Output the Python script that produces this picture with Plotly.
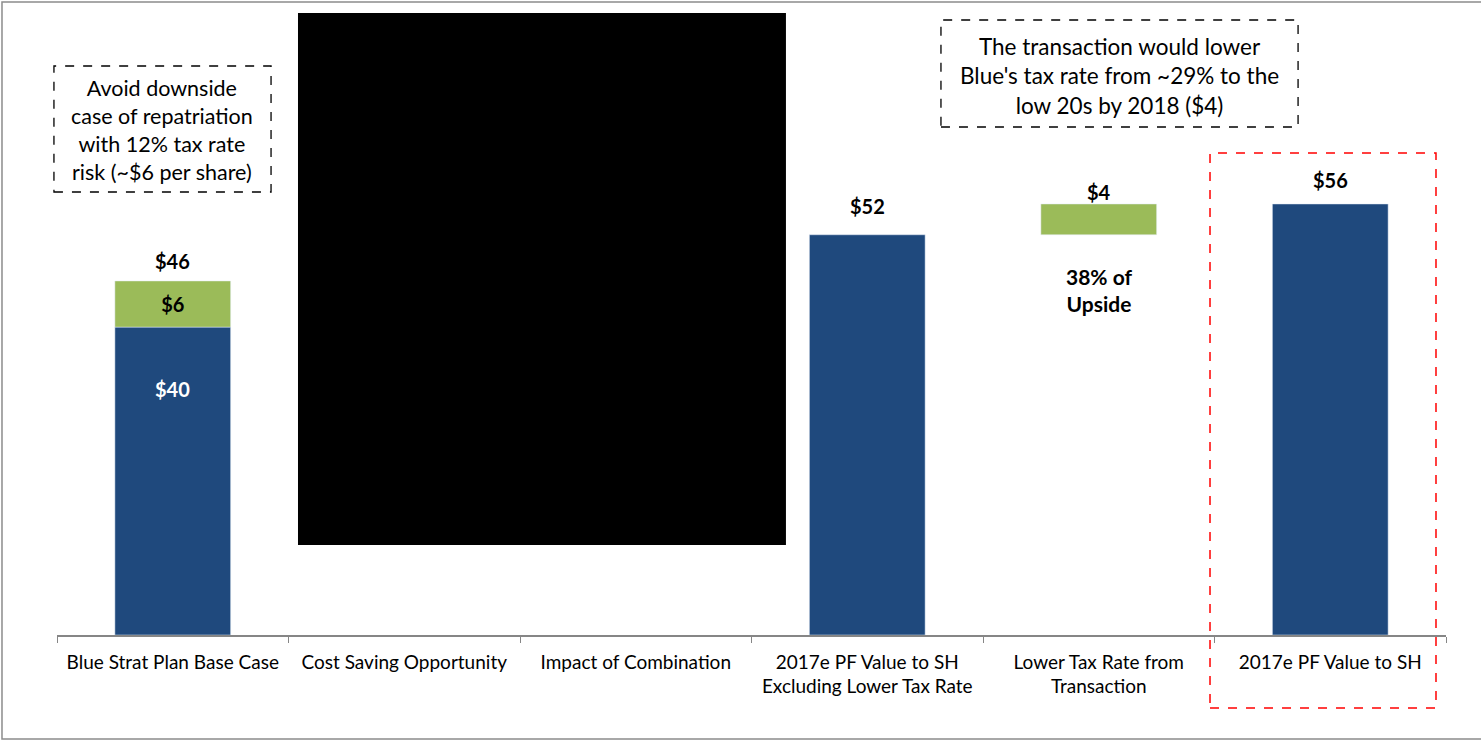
import plotly.graph_objects as go

categories = [
    "Blue Strat Plan Base Case",
    "Cost Saving Opportunity",
    "Impact of Combination",
    "2017e PF Value to SH<br>Excluding Lower Tax Rate",
    "Lower Tax Rate from<br>Transaction",
    "2017e PF Value to SH",
]
blue_values = [40, None, None, 52, None, 56]
green_base = [40, None, None, None, 52, None]
green_values = [6, None, None, None, 4, None]
top_labels = ["$46", None, None, "$52", "$4", "$56"]
top_label_y = [46, None, None, 52, 56, 56]
top_label_offset = [20, None, None, 29, 12, 24]  # px above bar top (label centre)
blue_inner = ["$40", None, None, None, None, None]
green_inner = ["$6", None, None, None, None, None]

FONT = "Lato"
BLUE = "#1F497D"
GREEN = "#9BBB59"

fig = go.Figure()
fig.add_trace(go.Bar(
    x=categories, y=blue_values, marker_color=BLUE, width=0.5,
    hoverinfo="skip", showlegend=False,
))
fig.add_trace(go.Bar(
    x=categories, y=green_values, base=[b if b is not None else 0 for b in green_base],
    marker_color=GREEN, width=0.5,
    text=green_inner, textposition="inside", insidetextanchor="middle",
    textfont=dict(color="black", size=20, family=FONT, weight="bold"),
    hoverinfo="skip", showlegend=False,
))

for c, v, lab in zip(categories, blue_values, blue_inner):
    if lab is None:
        continue
    fig.add_annotation(x=c, y=v, text=f"<b>{lab}</b>", showarrow=False,
                       yanchor="middle", yshift=-62,
                       font=dict(size=20, family=FONT, color="white"))

for c, lab, yv, off in zip(categories, top_labels, top_label_y, top_label_offset):
    if lab is None:
        continue
    fig.add_annotation(x=c, y=yv, text=f"<b>{lab}</b>", showarrow=False,
                       yanchor="middle", yshift=off,
                       font=dict(size=20, family=FONT, color="black"))

fig.add_annotation(x=categories[4], y=52, text="<b>38% of<br>Upside</b>", showarrow=False,
                   yanchor="top", yshift=-27,
                   font=dict(size=21, family=FONT, color="black"))

# note boxes
fig.add_shape(type="rect", xref="paper", yref="paper", x0=-0.0022, x1=0.1541, y0=0.7088, y1=0.9104,
              line=dict(color="black", width=1.3, dash="dash"))
fig.add_annotation(xref="paper", yref="paper", x=0.0756, y=0.8075,
                   text="Avoid downside<br>case of repatriation<br>with 12% tax rate<br>risk (~$6 per share)",
                   showarrow=False, align="center", xanchor="center", yanchor="middle",
                   font=dict(size=21.5, family=FONT, color="black"))
fig.add_shape(type="rect", xref="paper", yref="paper", x0=0.6364, x1=0.8935, y0=0.8128, y1=0.984,
              line=dict(color="black", width=1.3, dash="dash"))
fig.add_annotation(xref="paper", yref="paper", x=0.7646, y=0.8944,
                   text="The transaction would lower<br>Blue's tax rate from ~29% to the<br>low 20s by 2018 ($4)",
                   showarrow=False, align="center", xanchor="center", yanchor="middle",
                   font=dict(size=22.5, family=FONT, color="black"))

# highlight box
fig.add_shape(type="rect", xref="paper", yref="paper", x0=0.8301, x1=0.9928, y0=-0.1168, y1=0.7712,
              line=dict(color="#FF0000", width=1.5, dash="dash"))
# redaction block
fig.add_shape(type="rect", xref="paper", yref="paper", x0=0.1735, x1=0.5248, y0=0.144, y1=0.9952,
              fillcolor="black", line=dict(width=0))
# outer border
fig.add_shape(type="rect", xref="paper", yref="paper", x0=-0.0396, x1=1.2, y0=-0.1664, y1=1.0128,
              line=dict(color="#8C8C8C", width=1.5))

fig.update_layout(
    width=1481, height=741,
    margin=dict(l=57, r=35, t=10, b=106),
    plot_bgcolor="white", paper_bgcolor="white",
    barmode="overlay",
    font=dict(family=FONT, size=19, color="black"),
)
fig.update_xaxes(
    type="category", showline=True, linecolor="#868686", linewidth=1.5,
    ticks="outside", tickson="boundaries", ticklen=6, tickcolor="#868686",
    showgrid=False, tickfont=dict(size=19, family=FONT, color="black"),
    ticklabelstandoff=9,
)
fig.update_yaxes(visible=False, range=[0, 81.2], showgrid=False)

fig.write_html("out.html", config={"displayModeBar": False},
               post_script="document.body.style.margin='0';document.body.style.overflow='hidden';")
